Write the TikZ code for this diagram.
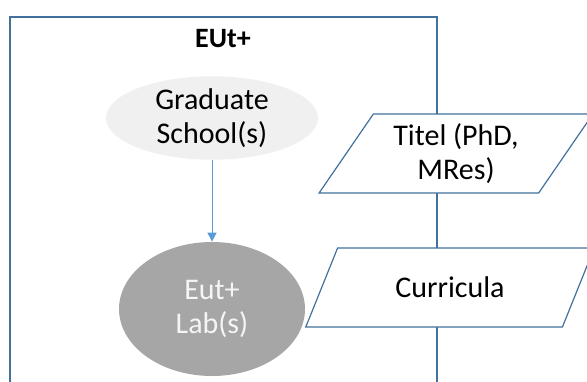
\documentclass[tikz,border=0pt]{standalone}
\usepackage{fontspec}
\setmainfont{Carlito}
\usetikzlibrary{arrows.meta, shapes.geometric}
\definecolor{frameblue}{RGB}{65, 113, 156}
\definecolor{arrowblue}{RGB}{91, 155, 213}
\definecolor{greyA}{RGB}{240, 240, 240}
\definecolor{greyB}{RGB}{166, 166, 166}

\begin{document}
\begin{tikzpicture}[x=0.5pt, y=-0.5pt, font=\fontsize{15}{17}\selectfont,
    blob/.style={ellipse, inner sep=0pt, align=center},
    datanode/.style={trapezium, trapezium stretches=true, draw=frameblue, fill=white,
        line width=0.6pt, minimum height=39.5pt, inner sep=0pt, align=center}]
                \useasboundingbox (0, 0) rectangle (587, 381);
                \clip (0, 0) rectangle (587, 381);
                % EUt+ frame, open at the bottom
                \draw[frameblue, line width=0.8pt] (10, 400) -- (10, 17) -- (437, 17) -- (437, 400);
                \node[font=\bfseries\fontsize{14}{16}\selectfont] (eut) at (223, 39) {EUt+};

                % Ellipses inside the frame
                \node[blob, fill=greyA, minimum width=106pt, minimum height=38pt] (grad) at (212, 118) {Graduate\\School(s)};
                \node[blob, fill=greyB, text=white!96!black, minimum width=93pt, minimum height=67pt] (lab) at (212, 309) {Eut+\\Lab(s)};
                \draw[arrowblue, line width=0.5pt, -{Triangle[length=4.5pt, width=4.5pt]}] (grad) -- (lab);

                % Data boxes on the frame edge
                \node[datanode, trapezium left angle=55.6, trapezium right angle=124.4, minimum width=137pt] (titel) at (456, 153.5) {Titel (PhD,\\MRes)};
                \node[datanode, trapezium left angle=53.7, trapezium right angle=126.3, minimum width=145pt] (curr) at (450, 287.5) {Curricula};
            \end{tikzpicture}
\end{document}
